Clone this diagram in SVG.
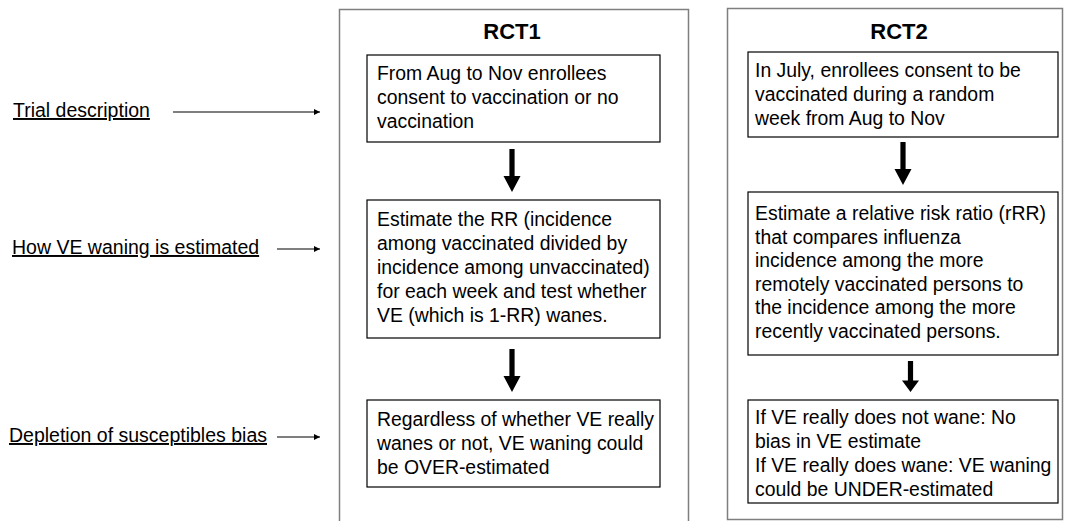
<svg xmlns="http://www.w3.org/2000/svg" width="1065" height="521" viewBox="0 0 1065 521">
<style>
.panel{fill:none;stroke:#7f7f7f;stroke-width:1.5}
.box{fill:#fff;stroke:#000;stroke-width:1.2}
.t{font-family:"Liberation Sans",Arial,sans-serif;font-size:19.4px;fill:#000}
.title{font-family:"Liberation Sans",Arial,sans-serif;font-size:22px;font-weight:bold;fill:#000;text-anchor:middle}
.lab{font-family:"Liberation Sans",Arial,sans-serif;font-size:19.5px;fill:#000;text-decoration:underline}
.thin{stroke:#000;stroke-width:1.2;fill:none;marker-end:url(#ah)}
.big{fill:#000}
</style>
<defs>
<marker id="ah" markerWidth="8" markerHeight="8" refX="6" refY="3" orient="auto" markerUnits="userSpaceOnUse">
<path d="M0,0 L6,3 L0,6 z" fill="#000"/>
</marker>
<path id="bigarrow" d="M-2.6,0 H2.6 V27 H8.5 L0,43 L-8.5,27 H-2.6 Z"/>
</defs>

<g id="panel-rct1">
<rect class="panel" x="339.5" y="9.5" width="349" height="520"/>
<text class="title" x="512" y="39">RCT1</text>
</g>
<g id="panel-rct2">
<rect class="panel" x="727.5" y="8.5" width="335" height="511"/>
<text class="title" x="899" y="39">RCT2</text>
</g>

<g id="label-trial">
<text class="lab" x="13" y="117">Trial description</text>
</g>
<g id="label-how">
<text class="lab" x="12" y="254">How VE waning is estimated</text>
</g>
<g id="label-depletion">
<text class="lab" x="9" y="442">Depletion of susceptibles bias</text>
</g>

<g id="rct1-box1">
<rect class="box" x="367" y="55" width="293" height="87"/>
<text class="t" x="377" y="80">From Aug to Nov enrollees</text>
<text class="t" x="377" y="104">consent to vaccination or no</text>
<text class="t" x="377" y="128">vaccination</text>
</g>
<g id="rct1-box2">
<rect class="box" x="367" y="200" width="293" height="138"/>
<text class="t" x="377" y="226">Estimate the RR (incidence</text>
<text class="t" x="377" y="250">among vaccinated divided by</text>
<text class="t" x="377" y="274">incidence among unvaccinated)</text>
<text class="t" x="377" y="298">for each week and test whether</text>
<text class="t" x="377" y="322">VE (which is 1-RR) wanes.</text>
</g>
<g id="rct1-box3">
<rect class="box" x="367" y="400" width="293" height="87"/>
<text class="t" x="377" y="426">Regardless of whether VE really</text>
<text class="t" x="377" y="450">wanes or not, VE waning could</text>
<text class="t" x="377" y="474">be OVER-estimated</text>
</g>

<g id="rct2-box1">
<rect class="box" x="748" y="52" width="310" height="85"/>
<text class="t" x="755" y="77">In July, enrollees consent to be</text>
<text class="t" x="755" y="101">vaccinated during a random</text>
<text class="t" x="755" y="125">week from Aug to Nov</text>
</g>
<g id="rct2-box2">
<rect class="box" x="748" y="192" width="310" height="163"/>
<text class="t" x="755" y="220">Estimate a relative risk ratio (rRR)</text>
<text class="t" x="755" y="243.5">that compares influenza</text>
<text class="t" x="755" y="267">incidence among the more</text>
<text class="t" x="755" y="290.5">remotely vaccinated persons to</text>
<text class="t" x="755" y="314">the incidence among the more</text>
<text class="t" x="755" y="337.5">recently vaccinated persons.</text>
</g>
<g id="rct2-box3">
<rect class="box" x="748" y="400" width="310" height="103"/>
<text class="t" x="755" y="424">If VE really does not wane: No</text>
<text class="t" x="755" y="448">bias in VE estimate</text>
<text class="t" x="755" y="472">If VE really does wane: VE waning</text>
<text class="t" x="755" y="496">could be UNDER-estimated</text>
</g>

<g id="connectors">
<line class="thin" x1="173" y1="112" x2="320" y2="112"/>
<line class="thin" x1="277" y1="249" x2="320" y2="249"/>
<line class="thin" x1="277" y1="437" x2="320" y2="437"/>
<use href="#bigarrow" class="big" x="512" y="149"/>
<use href="#bigarrow" class="big" x="512" y="349"/>
<use href="#bigarrow" class="big" x="903" y="142"/>
<g transform="translate(910.5,361) scale(1,0.72)"><use href="#bigarrow" class="big"/></g>
</g>
</svg>
